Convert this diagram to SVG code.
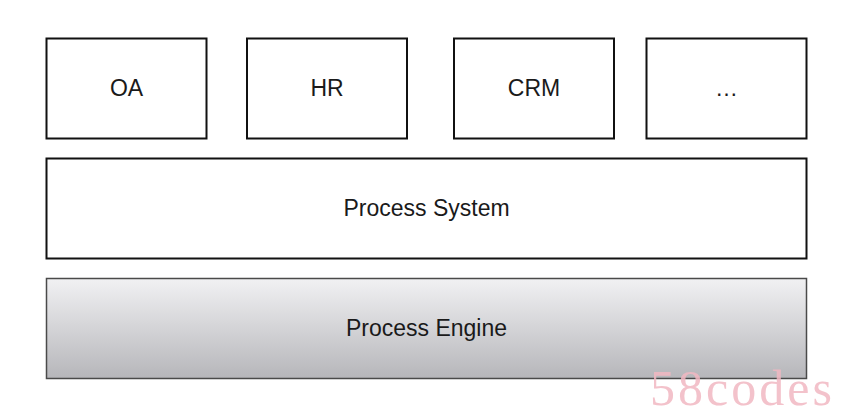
<svg xmlns="http://www.w3.org/2000/svg" width="848" height="420" viewBox="0 0 848 420">
<style>
.box{fill:#ffffff;stroke:#111111;stroke-width:2}
.eng{stroke:#4a4a4a;stroke-width:1.5}
.lbl{font-family:"Liberation Sans",Arial,sans-serif;font-size:23px;fill:#1a1a1a;text-anchor:middle}
.wm{font-family:"Liberation Serif","Times New Roman",serif;font-size:50px;fill:#f2b8c2;letter-spacing:3px;opacity:0.85}
</style>
<defs>
<linearGradient id="g" x1="0" y1="0" x2="0" y2="1">
<stop offset="0" stop-color="#f1f1f3"/>
<stop offset="1" stop-color="#b6b6ba"/>
</linearGradient>
</defs>
<rect width="848" height="420" fill="#ffffff"/>
<g id="oa"><rect class="box" x="46.5" y="38.5" width="160" height="100"/><text class="lbl" x="126.5" y="96">OA</text></g>
<g id="hr"><rect class="box" x="247" y="38.5" width="160" height="100"/><text class="lbl" x="327" y="96">HR</text></g>
<g id="crm"><rect class="box" x="454" y="38.5" width="160" height="100"/><text class="lbl" x="534" y="96">CRM</text></g>
<g id="more"><rect class="box" x="646.5" y="38.5" width="160" height="100"/><text class="lbl" x="726.5" y="96">…</text></g>
<g id="process-system"><rect class="box" x="46.5" y="158.5" width="760" height="100"/><text class="lbl" x="426.5" y="216">Process System</text></g>
<g id="process-engine"><rect class="eng" fill="url(#g)" x="46.5" y="278.5" width="760" height="100"/><text class="lbl" x="426.5" y="336">Process Engine</text></g>
<g id="connectors"></g>
<text class="wm" x="650" y="405">58codes</text>
</svg>
